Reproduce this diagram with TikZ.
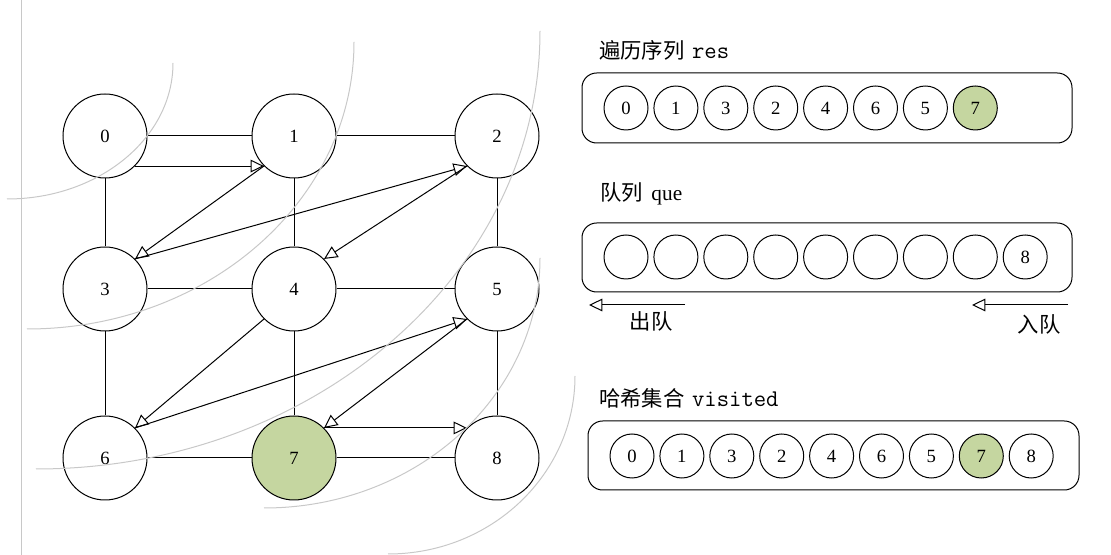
\documentclass[tikz,border=0pt]{standalone}
\usepackage{fontspec}
\setmainfont{Liberation Serif}
\newfontfamily\cjk{Noto Sans CJK SC}
\usetikzlibrary{arrows.meta}
\definecolor{vgreen}{RGB}{197,214,160}
\definecolor{arcgray}{RGB}{200,200,200}
\newcommand{\codefont}{\ttfamily\fontsize{18}{18}\selectfont}
\begin{document}
\begin{tikzpicture}[x=0.75pt,y=-0.75pt,
  gnode/.style={circle,draw,line width=0.75pt,minimum size=63pt,inner sep=0pt,font=\fontsize{14}{14}\selectfont},
  snode/.style={circle,draw,line width=0.75pt,minimum size=33pt,inner sep=0pt,font=\fontsize{14}{14}\selectfont},
  edge/.style={line width=0.75pt},
  trav/.style={line width=0.75pt,-{Triangle[open,length=10pt,width=9.5pt]}},
  layer/.style={draw=arcgray,line width=0.75pt},
  box/.style={draw,line width=0.75pt,rounded corners=11pt},
  lbl/.style={font=\fontsize{16}{16}\selectfont,anchor=west,inner sep=0pt},
  clbl/.style={font=\fontsize{16}{16}\selectfont,inner sep=0pt}]
\useasboundingbox (0,0) rectangle (1111,555);
% graph nodes
\node[gnode] (n0) at (105,136) {0};
\node[gnode] (n1) at (294,136) {1};
\node[gnode] (n2) at (497,136) {2};
\node[gnode] (n3) at (105,289) {3};
\node[gnode] (n4) at (294,289) {4};
\node[gnode] (n5) at (497,289) {5};
\node[gnode] (n6) at (105,458) {6};
\node[gnode,fill=vgreen] (n7) at (294,458) {7};
\node[gnode] (n8) at (497,458) {8};
% grid edges
\draw[edge] (n0) -- (n1); \draw[edge] (n1) -- (n2);
\draw[edge] (n3) -- (n4); \draw[edge] (n4) -- (n5);
\draw[edge] (n6) -- (n7); \draw[edge] (n7) -- (n8);
\draw[edge] (n0) -- (n3); \draw[edge] (n3) -- (n6);
\draw[edge] (n1) -- (n4); \draw[edge] (n4) -- (n7);
\draw[edge] (n2) -- (n5); \draw[edge] (n5) -- (n8);
% traversal arrows
\draw[trav] (n0.south east) -- (n1.south west);
\draw[trav] (n1.south west) -- (n3.north east);
\draw[trav] (n3.north east) -- (n2.south west);
\draw[trav] (n2.south west) -- (n4.north east);
\draw[trav] (n4.south west) -- (n6.north east);
\draw[trav] (n6.north east) -- (n5.south west);
\draw[trav] (n5.south west) -- (n7.north east);
\draw[trav] (n7.north east) -- (n8.north west);
% layer arcs
\draw[layer] (21,0) -- (21,555);
\draw[layer] (173,63) arc[start angle=0,end angle=90,x radius=166,y radius=136];
\draw[layer] (354,42) arc[start angle=0,end angle=90,x radius=327,y radius=287];
\draw[layer] (540,31) arc[start angle=0,end angle=90,x radius=504,y radius=438];
\draw[layer] (540,258) arc[start angle=0,end angle=90,x radius=276,y radius=250];
\draw[layer] (575,376) arc[start angle=0,end angle=90,x radius=187,y radius=178];
% res
\node[lbl] (tres) at (599,50) {{\cjk 遍历序列}\hspace{0.35em}{\codefont res}};
\draw[box] (582,73) rectangle (1072,143);
\foreach \v [count=\i from 0] in {0,1,3,2,4,6,5} {
  \node[snode] (r\i) at ({626+49.9*\i},108) {\v};
}
\node[snode,fill=vgreen] (r7) at ({626+49.9*7},108) {7};
% queue
\node[lbl] (tque) at (600,194) {{\cjk 队列}\hspace{0.4em}que};
\draw[box] (582,223) rectangle (1072,292);
\foreach \i in {0,...,7} {
  \node[snode] (q\i) at ({626+49.9*\i},257) {};
}
\node[snode] (q8) at ({626+49.9*8},257) {8};
\coordinate (deqs) at (685,305);
\coordinate (deqe) at (589,305);
\draw[trav] (deqs) -- (deqe);
\node[clbl] (tdeq) at (651,321) {\cjk 出队};
\coordinate (enqs) at (1068,305);
\coordinate (enqe) at (972,305);
\draw[trav] (enqs) -- (enqe);
\node[clbl] (tenq) at (1039,324) {\cjk 入队};
% visited
\node[lbl] (tvis) at (599,398) {{\cjk 哈希集合}\hspace{0.35em}{\codefont visited}};
\draw[box] (588,421) rectangle (1079,490);
\foreach \v [count=\i from 0] in {0,1,3,2,4,6,5} {
  \node[snode] (v\i) at ({632+49.9*\i},456) {\v};
}
\node[snode,fill=vgreen] (v7) at ({632+49.9*7},456) {7};
\node[snode] (v8) at ({632+49.9*8},456) {8};
\end{tikzpicture}
\end{document}
